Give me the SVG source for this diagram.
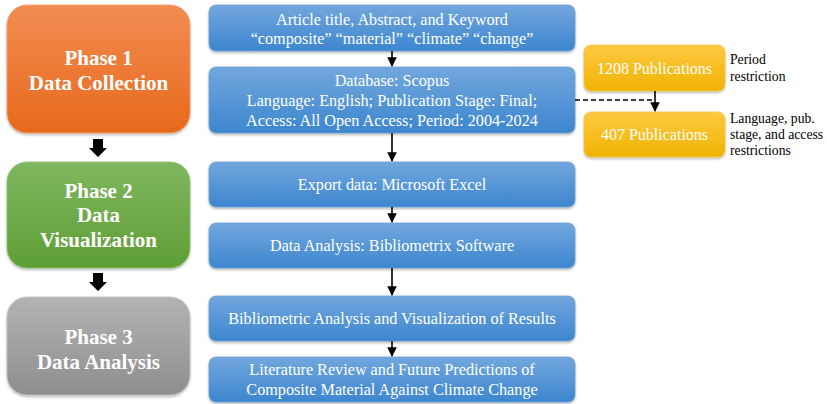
<svg xmlns="http://www.w3.org/2000/svg" width="827" height="404" viewBox="0 0 827 404">
  <defs>
    <linearGradient id="gOrange" x1="0" y1="0" x2="0" y2="1">
      <stop offset="0" stop-color="#f18c52"/>
      <stop offset="1" stop-color="#e7691b"/>
    </linearGradient>
    <linearGradient id="gGreen" x1="0" y1="0" x2="0" y2="1">
      <stop offset="0" stop-color="#7fb760"/>
      <stop offset="1" stop-color="#5f9e35"/>
    </linearGradient>
    <linearGradient id="gGrey" x1="0" y1="0" x2="0" y2="1">
      <stop offset="0" stop-color="#b3b3b3"/>
      <stop offset="1" stop-color="#8e8e8e"/>
    </linearGradient>
    <linearGradient id="gBlue" x1="0" y1="0" x2="0" y2="1">
      <stop offset="0" stop-color="#72a7dd"/>
      <stop offset="1" stop-color="#3d86cf"/>
    </linearGradient>
    <linearGradient id="gGold" x1="0" y1="0" x2="0" y2="1">
      <stop offset="0" stop-color="#ffc942"/>
      <stop offset="1" stop-color="#efb300"/>
    </linearGradient>
    <filter id="shadow" x="-10%" y="-10%" width="120%" height="130%">
      <feDropShadow dx="0" dy="1.5" stdDeviation="1.2" flood-color="#000" flood-opacity="0.3"/>
    </filter>
    <marker id="arr" viewBox="0 0 10 10" refX="9" refY="5" markerWidth="6" markerHeight="6" orient="auto">
      <path d="M0,0 L10,5 L0,10 z" fill="#000"/>
    </marker>
  </defs>
  <style>
    .phase { font-family: "Liberation Serif", "Times New Roman", serif; font-weight: bold; font-size: 21px; fill: #fff; text-anchor: middle; }
    .step { font-family: "Liberation Serif", "Times New Roman", serif; font-size: 16.2px; fill: #fff; text-anchor: middle; }
    .pub { font-family: "Liberation Serif", "Times New Roman", serif; font-size: 16px; fill: #fff; text-anchor: middle; }
    .note { font-family: "Liberation Serif", "Times New Roman", serif; font-size: 13.7px; fill: #000; }
    .box { filter: url(#shadow); }
    .blue { fill: url(#gBlue); stroke: #6a9fd6; stroke-width: 0.8; }
    .gold { fill: url(#gGold); stroke: #f5c44a; stroke-width: 0.8; }
    .link { stroke: #000; stroke-width: 1.6; fill: none; }
  </style>

  <!-- phase column -->
  <g id="phase1">
    <rect class="box" x="7" y="5" width="183" height="128" rx="20" fill="url(#gOrange)" stroke="#f0a070" stroke-width="0.8"/>
    <text class="phase" x="98.5" y="65">Phase 1</text>
    <text class="phase" x="98.5" y="90">Data Collection</text>
  </g>
  <g id="phase2">
    <rect class="box" x="7" y="162" width="183" height="106" rx="20" fill="url(#gGreen)" stroke="#8cc070" stroke-width="0.8"/>
    <text class="phase" x="98.5" y="198">Phase 2</text>
    <text class="phase" x="98.5" y="222">Data</text>
    <text class="phase" x="98.5" y="247">Visualization</text>
  </g>
  <g id="phase3">
    <rect class="box" x="7" y="297" width="183" height="98" rx="20" fill="url(#gGrey)" stroke="#c0c0c0" stroke-width="0.8"/>
    <text class="phase" x="98.5" y="344">Phase 3</text>
    <text class="phase" x="98.5" y="369">Data Analysis</text>
  </g>

  <!-- process steps -->
  <g id="step1">
    <rect class="box blue" x="209" y="5" width="366" height="46" rx="7"/>
    <text class="step" x="392" y="25">Article title, Abstract, and Keyword</text>
    <text class="step" x="392" y="44">“composite” “material” “climate” “change”</text>
  </g>
  <g id="step2">
    <rect class="box blue" x="209" y="67" width="366" height="66" rx="7"/>
    <text class="step" x="392" y="86">Database: Scopus</text>
    <text class="step" x="392" y="106">Language: English; Publication Stage: Final;</text>
    <text class="step" x="392" y="126">Access: All Open Access; Period: 2004-2024</text>
  </g>
  <g id="step3">
    <rect class="box blue" x="209" y="162" width="366" height="45" rx="7"/>
    <text class="step" x="392" y="190">Export data: Microsoft Excel</text>
  </g>
  <g id="step4">
    <rect class="box blue" x="209" y="223" width="366" height="45" rx="7"/>
    <text class="step" x="392" y="251">Data Analysis: Bibliometrix Software</text>
  </g>
  <g id="step5">
    <rect class="box blue" x="209" y="296" width="366" height="45" rx="7"/>
    <text class="step" x="392" y="324">Bibliometric Analysis and Visualization of Results</text>
  </g>
  <g id="step6">
    <rect class="box blue" x="209" y="357" width="366" height="45" rx="7"/>
    <text class="step" x="392" y="375">Literature Review and Future Predictions of</text>
    <text class="step" x="392" y="395">Composite Material Against Climate Change</text>
  </g>

  <!-- publication counts -->
  <g id="pub1208">
    <rect class="box gold" x="584" y="45" width="141" height="46" rx="7"/>
    <text class="pub" x="654.5" y="74">1208 Publications</text>
  </g>
  <g id="pub407">
    <rect class="box gold" x="584" y="112" width="141" height="45" rx="7"/>
    <text class="pub" x="654.5" y="140">407 Publications</text>
  </g>
  <g id="notes">
    <text class="note" x="730" y="64">Period</text>
    <text class="note" x="730" y="81">restriction</text>
    <text class="note" x="730" y="123">Language, pub.</text>
    <text class="note" x="730" y="139">stage, and access</text>
    <text class="note" x="730" y="155">restrictions</text>
  </g>

  <!-- connectors -->
  <g id="connectors">
    <line class="link" x1="392" y1="51" x2="392" y2="66" marker-end="url(#arr)"/>
    <line class="link" x1="392" y1="133" x2="392" y2="161" marker-end="url(#arr)"/>
    <line class="link" x1="392" y1="207" x2="392" y2="222" marker-end="url(#arr)"/>
    <line class="link" x1="392" y1="268" x2="392" y2="295" marker-end="url(#arr)"/>
    <line class="link" x1="392" y1="341" x2="392" y2="356" marker-end="url(#arr)"/>
    <line class="link" x1="655" y1="91" x2="655" y2="111" marker-end="url(#arr)"/>
    <path class="link" d="M575,100 H655" stroke-dasharray="5,3"/>
    <!-- thick block arrows between phases -->
    <path d="M93,139 H103 V148 H107 L98,157 L89,148 H93 Z" fill="#000"/>
    <path d="M93,273 H103 V282 H107 L98,291 L89,282 H93 Z" fill="#000"/>
  </g>
</svg>
